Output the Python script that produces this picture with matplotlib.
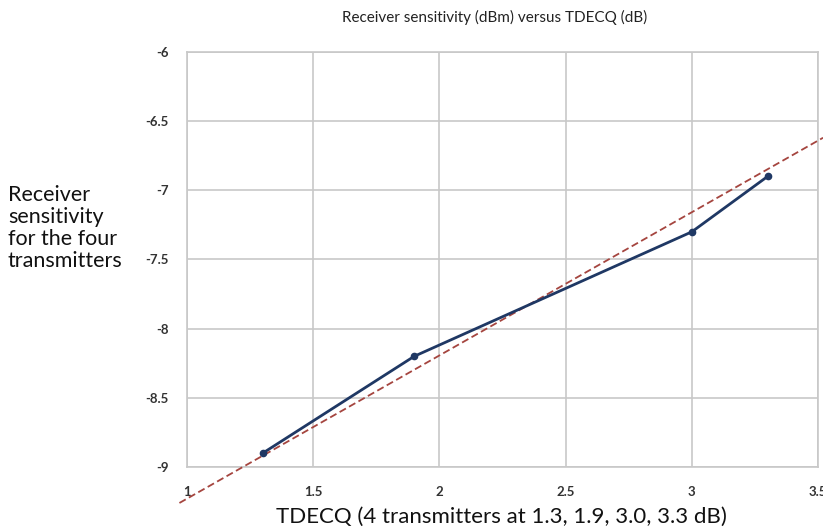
import matplotlib.pyplot as plt

# measured receiver sensitivity for the four transmitters
tdecq = [1.3, 1.9, 3.0, 3.3]
sensitivity = [-8.9, -8.2, -7.3, -6.9]

# hand-drawn trend line end points
trend_x = [0.97, 3.52]
trend_y = [-9.26, -6.62]

x_ticks = [1, 1.5, 2, 2.5, 3, 3.5]
x_labels = ['1', '1.5', '2', '2.5', '3', '3.5']
y_ticks = [-9, -8.5, -8, -7.5, -7, -6.5, -6]
y_labels = ['-9', '-8.5', '-8', '-7.5', '-7', '-6.5', '-6']

plt.rcParams['font.family'] = ['Lato', 'DejaVu Sans']

fig = plt.figure(figsize=(8.23, 5.32), dpi=100)
ax = fig.add_axes([187 / 823, 1 - 467 / 532, (818 - 187) / 823, (467 - 52) / 532])

ax.plot(trend_x, trend_y, color='#a5453f', linestyle=(0, (4, 2)), linewidth=1.3,
        clip_on=False, zorder=3)
ax.plot(tdecq, sensitivity, color='#1f3864', linewidth=2, marker='o',
        markersize=4.5, zorder=4)

ax.set_xlim(1, 3.5)
ax.set_ylim(-9, -6)
ax.set_xticks(x_ticks)
ax.set_xticklabels(x_labels)
ax.set_yticks(y_ticks)
ax.set_yticklabels(y_labels)
ax.tick_params(length=0, labelsize=9.5, colors='#333333')
ax.tick_params(axis='y', pad=13)
ax.tick_params(axis='x', pad=14)
for lbl in ax.get_xticklabels() + ax.get_yticklabels():
    lbl.set_fontweight('bold')

ax.grid(True, color='#c8c8c8', linewidth=1.2)
ax.set_axisbelow(True)
for s in ax.spines.values():
    s.set_color('#c8c8c8')
    s.set_linewidth(1.2)

fig.text(495 / 823, 1 - 17 / 532, 'Receiver sensitivity (dBm) versus TDECQ (dB)',
         ha='center', va='center', fontsize=11, color='#222222')
fig.text(501 / 823, 1 - 517 / 532, 'TDECQ (4 transmitters at 1.3, 1.9, 3.0, 3.3 dB)',
         ha='center', va='center', fontsize=16, color='#111111')
fig.text(8 / 823, 1 - 228 / 532, 'Receiver\nsensitivity\nfor the four\ntransmitters',
         ha='left', va='center', fontsize=15.5, color='#111111', linespacing=1.12)

fig.savefig('out.png', dpi=100)
